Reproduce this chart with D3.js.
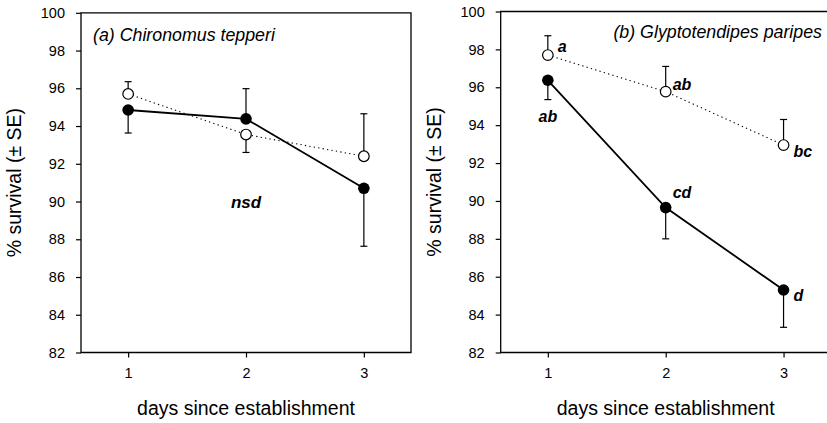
<!DOCTYPE html>
<html>
<head>
<meta charset="utf-8">
<script src="https://cdn.jsdelivr.net/npm/d3@7"></script>
<style>
  body { margin: 0; background: #fff; }
  svg { display: block; font-family: "Liberation Sans", Arial, sans-serif; }
</style>
</head>
<body>
<div id="chart-area"></div>
<script>
// data
var days = [1, 2, 3];
var yTicks = [82, 84, 86, 88, 90, 92, 94, 96, 98, 100];

// (a) Chironomus tepperi
var aOpen = [95.7, 93.55, 92.4];
var aOpenSE = [0.65, 0.95, 2.25];
var aOpenDir = [1, -1, 1];
var aFilled = [94.85, 94.38, 90.7];
var aFilledSE = [1.22, 1.6, 3.07];
var aFilledDir = [-1, 1, -1];

// (b) Glyptotendipes paripes
var bOpen = [97.7, 95.77, 92.95];
var bOpenSE = [1.02, 1.33, 1.35];
var bOpenDir = [1, 1, 1];
var bFilled = [96.37, 89.65, 85.3];
var bFilledSE = [1.02, 1.65, 1.97];
var bFilledDir = [-1, -1, -1];
var bOpenLetters = ["a", "ab", "bc"];
var bFilledLetters = ["ab", "cd", "d"];

var W = 827, H = 423;
var svg = d3.select("#chart-area").append("svg")
    .attr("width", W)
    .attr("height", H);

function drawPanel(p) {
    var x = d3.scaleLinear().domain([0.6, 3.4]).range([p.left, p.left + 330]);
    var y = d3.scaleLinear().domain([82, 100]).range([352.5, p.top]);
    var g = svg.append("g");

    // frame
    g.append("path")
        .attr("d", "M" + p.left + "," + y(82) + "V" + p.top + "H" + (p.left + 330) + "V" + y(82) + "Z")
        .attr("fill", "none").attr("stroke", "#000").attr("stroke-width", 1.3);

    var yAxis = g.append("g")
        .attr("transform", "translate(" + p.left + ",0)")
        .call(d3.axisLeft(y).tickValues(yTicks).tickSize(5).tickPadding(11));
    var xAxis = g.append("g")
        .attr("transform", "translate(0," + y(82) + ")")
        .call(d3.axisBottom(x).tickValues(days).tickFormat(d3.format("d")).tickSize(5).tickPadding(10));
    [yAxis, xAxis].forEach(function(a) {
        a.select(".domain").remove();
        a.selectAll("line").attr("stroke-width", 1.2);
        a.selectAll("text").attr("font-size", 14.5).attr("fill", "#000")
            .attr("font-family", "Liberation Sans, Arial, sans-serif");
    });

    g.append("text")
        .attr("x", (x(0.6) + x(3.4)) / 2)
        .attr("y", 415)
        .attr("text-anchor", "middle")
        .attr("font-size", 19.5)
        .text("days since establishment");
    g.append("text")
        .attr("transform", "translate(" + (p.left - 60) + "," + (y(91)) + ") rotate(-90)")
        .attr("text-anchor", "middle")
        .attr("font-size", 19.5)
        .text("% survival (± SE)");

    var title = g.append("text")
        .attr("y", p.titleY)
        .attr("font-size", 17.8)
        .attr("font-style", "italic")
        .text(p.title);
    if (p.titleAnchor === "end") title.attr("x", p.titleX).attr("text-anchor", "end");
    else title.attr("x", p.titleX);

    var line = d3.line().x(function(d, i) { return x(days[i]); }).y(function(d) { return y(d); });

    g.append("path").datum(p.open)
        .attr("d", line)
        .attr("fill", "none").attr("stroke", "#000")
        .attr("stroke-width", 1.1).attr("stroke-dasharray", "1.3,3.2");
    g.append("path").datum(p.filled)
        .attr("d", line)
        .attr("fill", "none").attr("stroke", "#000").attr("stroke-width", 1.8);

    // one-sided error bars
    function errBars(vals, se, dir) {
        var eb = g.selectAll(null).data(vals).enter().append("g");
        eb.append("line")
            .attr("x1", function(d, i) { return x(days[i]); })
            .attr("x2", function(d, i) { return x(days[i]); })
            .attr("y1", function(d) { return y(d); })
            .attr("y2", function(d, i) { return y(d + dir[i] * se[i]); })
            .attr("stroke", "#000").attr("stroke-width", 1.2);
        eb.append("line")
            .attr("x1", function(d, i) { return x(days[i]) - 3.5; })
            .attr("x2", function(d, i) { return x(days[i]) + 3.5; })
            .attr("y1", function(d, i) { return y(d + dir[i] * se[i]); })
            .attr("y2", function(d, i) { return y(d + dir[i] * se[i]); })
            .attr("stroke", "#000").attr("stroke-width", 1.2);
    }
    errBars(p.open, p.openSE, p.openDir);
    errBars(p.filled, p.filledSE, p.filledDir);

    g.selectAll(null).data(p.filled).enter().append("circle")
        .attr("cx", function(d, i) { return x(days[i]); })
        .attr("cy", function(d) { return y(d); })
        .attr("r", 5.8).attr("fill", "#000");
    g.selectAll(null).data(p.open).enter().append("circle")
        .attr("cx", function(d, i) { return x(days[i]); })
        .attr("cy", function(d) { return y(d); })
        .attr("r", 5.3).attr("fill", "#fff").attr("stroke", "#000").attr("stroke-width", 1.2);

    return { x: x, y: y, g: g };
}

var pa = drawPanel({
    left: 81, top: 12.8, title: "(a) Chironomus tepperi", titleX: 93, titleY: 41,
    open: aOpen, openSE: aOpenSE, openDir: aOpenDir,
    filled: aFilled, filledSE: aFilledSE, filledDir: aFilledDir
});
pa.g.append("text")
    .attr("x", pa.x(2)).attr("y", pa.y(89.65))
    .attr("text-anchor", "middle")
    .attr("font-size", 17).attr("font-weight", "bold").attr("font-style", "italic")
    .text("nsd");

var pb = drawPanel({
    left: 500.7, top: 11.5, title: "(b) Glyptotendipes paripes", titleX: 822, titleY: 38, titleAnchor: "end",
    open: bOpen, openSE: bOpenSE, openDir: bOpenDir,
    filled: bFilled, filledSE: bFilledSE, filledDir: bFilledDir
});

// significance letters: pixel offsets from each point
var openOffsets = [[10, -3], [7, -2], [10, 12]];
var filledOffsets = [[0, 42], [7, -10], [10, 11]];
function letters(vals, labels, offs, centerFirst) {
    pb.g.selectAll(null).data(vals).enter().append("text")
        .attr("x", function(d, i) { return pb.x(days[i]) + offs[i][0]; })
        .attr("y", function(d) { return pb.y(d); })
        .attr("dy", function(d, i) { return offs[i][1]; })
        .attr("text-anchor", function(d, i) { return (centerFirst && i === 0) ? "middle" : "start"; })
        .attr("font-size", 16).attr("font-weight", "bold").attr("font-style", "italic")
        .text(function(d, i) { return labels[i]; });
}
letters(bOpen, bOpenLetters, openOffsets, false);
letters(bFilled, bFilledLetters, filledOffsets, true);
</script>
</body>
</html>
